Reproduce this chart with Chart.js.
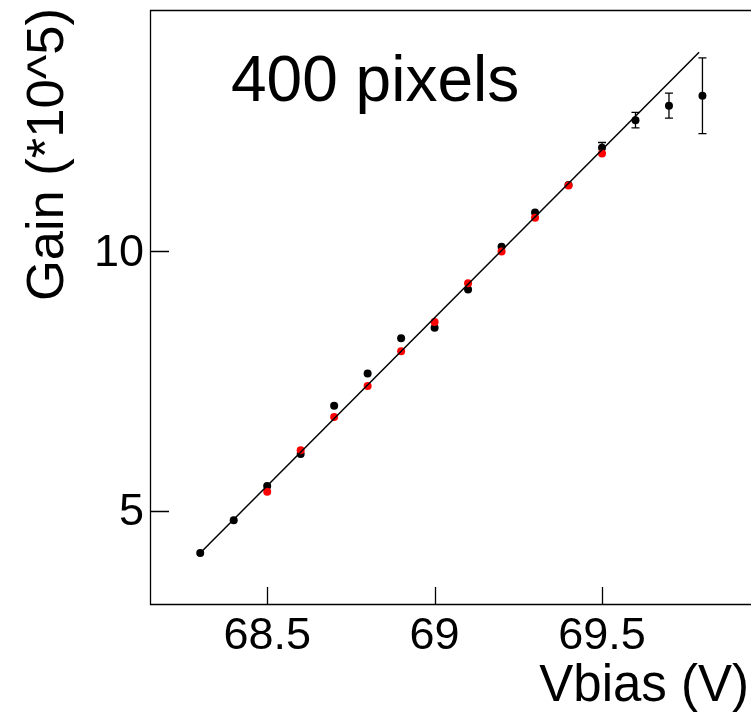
<!DOCTYPE html>
<html>
<head>
<meta charset="utf-8">
<script src="https://cdn.jsdelivr.net/npm/chart.js@4/dist/chart.umd.min.js"></script>
<style>
  html, body { margin: 0; padding: 0; background: #fff; }
  #plot { display: block; }
</style>
</head>
<body>
<canvas id="plot" width="751" height="713"></canvas>
<script>
// black points: full scan, with error bars
const vbias = [68.3, 68.4, 68.5, 68.6, 68.7, 68.8, 68.9, 69.0, 69.1, 69.2, 69.3, 69.4, 69.5, 69.6, 69.7, 69.8];
const gain = [4.19, 4.82, 5.48, 6.10, 7.03, 7.65, 8.33, 8.53, 9.27, 10.09, 10.75, 11.28, 12.00, 12.53, 12.81, 13.00];
const gainErr = [0.03, 0.03, 0.03, 0.03, 0.03, 0.03, 0.03, 0.03, 0.04, 0.04, 0.05, 0.07, 0.10, 0.15, 0.24, 0.73];

// red points
const vbiasRed = [68.5, 68.6, 68.7, 68.8, 68.9, 69.0, 69.1, 69.2, 69.3, 69.4, 69.5];
const gainRed = [5.37, 6.17, 6.81, 7.41, 8.08, 8.64, 9.39, 10.00, 10.65, 11.27, 11.89];

// straight line fit, end points
const fitX = [68.3, 69.79];
const fitY = [4.19, 13.84];

const xTicks = [68.5, 69, 69.5];
const yTicks = [5, 10];

const FONT = "'Liberation Sans', Arial, Helvetica, sans-serif";

const toXY = (xs, ys) => xs.map((x, i) => ({ x: x, y: ys[i] }));

const rootStyle = {
    id: "rootStyle",
    beforeDatasetsDraw(chart) {
        const ctx = chart.ctx;
        const xs = chart.scales.x;
        const ys = chart.scales.y;
        ctx.save();
        ctx.strokeStyle = "#000";
        ctx.lineWidth = 1.3;
        // error bars on the black points
        vbias.forEach((v, i) => {
            const px = xs.getPixelForValue(v);
            const top = ys.getPixelForValue(gain[i] + gainErr[i]);
            const bot = ys.getPixelForValue(gain[i] - gainErr[i]);
            ctx.beginPath();
            ctx.moveTo(px, top);
            ctx.lineTo(px, bot);
            if (bot - top > 8) {
                ctx.moveTo(px - 4, top);
                ctx.lineTo(px + 4, top);
                ctx.moveTo(px - 4, bot);
                ctx.lineTo(px + 4, bot);
            }
            ctx.stroke();
        });
        ctx.restore();
    },
    afterDraw(chart) {
        const ctx = chart.ctx;
        const area = chart.chartArea;
        const xs = chart.scales.x;
        const ys = chart.scales.y;
        ctx.save();
        ctx.strokeStyle = "#000";
        ctx.lineWidth = 1.3;
        // frame: top, left, bottom (right edge falls off the picture)
        const l = area.left + 0.5, t = area.top + 0.5, b = area.bottom + 0.5;
        ctx.beginPath();
        ctx.moveTo(area.right, t);
        ctx.lineTo(l, t);
        ctx.lineTo(l, b);
        ctx.lineTo(area.right, b);
        ctx.stroke();
        // inward tick marks
        ctx.beginPath();
        xTicks.forEach(v => {
            const px = Math.round(xs.getPixelForValue(v)) + 0.5;
            ctx.moveTo(px, area.bottom);
            ctx.lineTo(px, area.bottom - 17);
        });
        yTicks.forEach(v => {
            const py = Math.round(ys.getPixelForValue(v)) + 0.5;
            ctx.moveTo(area.left, py);
            ctx.lineTo(area.left + 19, py);
        });
        ctx.stroke();

        ctx.fillStyle = "#000";
        // tick labels
        ctx.font = "45px " + FONT;
        ctx.textAlign = "center";
        ctx.textBaseline = "alphabetic";
        xTicks.forEach(v => {
            ctx.fillText(String(v), xs.getPixelForValue(v), area.bottom + 45);
        });
        ctx.textAlign = "right";
        ctx.textBaseline = "middle";
        yTicks.forEach(v => {
            ctx.fillText(String(v), area.left - 6, ys.getPixelForValue(v) + 2);
        });

        // label inside the pad
        ctx.font = "64px " + FONT;
        ctx.textAlign = "left";
        ctx.textBaseline = "alphabetic";
        ctx.fillText("400 pixels", 231, 101);

        // axis titles
        ctx.font = "51px " + FONT;
        ctx.textAlign = "right";
        ctx.fillText("Vbias (V)", 749, 701);

        ctx.font = "52.5px " + FONT;
        ctx.translate(63, 8);
        ctx.rotate(-Math.PI / 2);
        ctx.textAlign = "right";
        ctx.fillText("Gain (*10^5)", 0, 0);
        ctx.restore();
    }
};

new Chart(document.getElementById("plot"), {
    type: "scatter",
    data: {
        datasets: [
            {
                label: "fit",
                type: "line",
                data: toXY(fitX, fitY),
                borderColor: "#000",
                borderWidth: 1.5,
                pointRadius: 0,
                showLine: true,
                order: 0
            },
            {
                label: "red",
                data: toXY(vbiasRed, gainRed),
                backgroundColor: "#ff0000",
                borderWidth: 0,
                pointRadius: 4,
                order: 1
            },
            {
                label: "black",
                data: toXY(vbias, gain),
                backgroundColor: "#000",
                borderWidth: 0,
                pointRadius: 4,
                order: 2
            }
        ]
    },
    options: {
        responsive: false,
        animation: false,
        devicePixelRatio: 1,
        layout: { autoPadding: false, padding: { top: 10, right: 0, left: 0, bottom: 0 } },
        plugins: {
            legend: { display: false },
            tooltip: { enabled: false },
            title: { display: false }
        },
        scales: {
            x: {
                type: "linear",
                min: 68.15,
                max: 69.945,
                grid: { display: false, drawTicks: false },
                border: { display: false },
                afterBuildTicks: s => { s.ticks = xTicks.map(v => ({ value: v })); },
                afterFit: s => { s.height = 109; },
                ticks: { display: false }
            },
            y: {
                type: "linear",
                min: 3.208,
                max: 14.653,
                grid: { display: false, drawTicks: false },
                border: { display: false },
                afterBuildTicks: s => { s.ticks = yTicks.map(v => ({ value: v })); },
                afterFit: s => { s.width = 150; },
                ticks: { display: false }
            }
        }
    },
    plugins: [rootStyle]
});
</script>
</body>
</html>
